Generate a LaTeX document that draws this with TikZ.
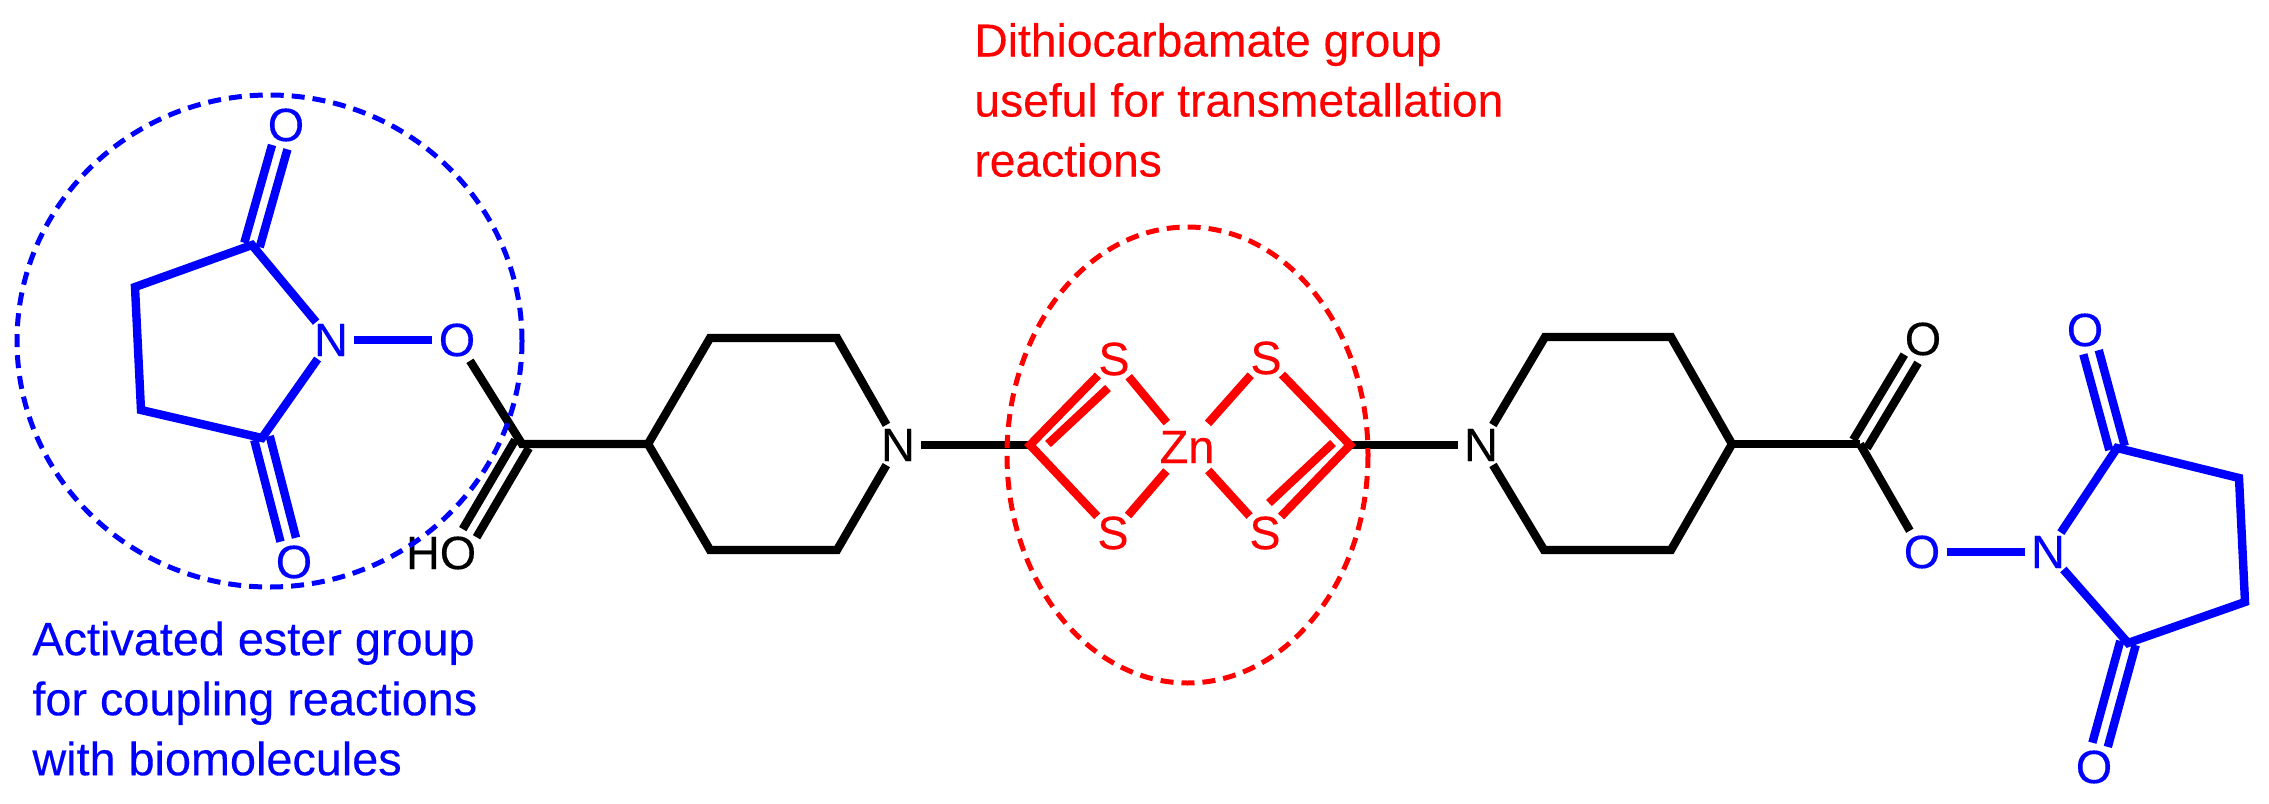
\documentclass[tikz,border=0pt]{standalone}
\usepackage{fontspec}
\setmainfont{Liberation Sans}[FakeBold=0.25]
\usetikzlibrary{calc}
\newcommand{\dblBond}[3]{%
  \draw[bond,#1,shorten >=11.5pt] ($(#2)!4pt!90:(#3)$) -- ($(#3)!4pt!-90:(#2)$);
  \draw[bond,#1,shorten >=11.5pt] ($(#2)!4pt!-90:(#3)$) -- ($(#3)!4pt!90:(#2)$);
}
\tikzset{
  atom/.style={circle,inner sep=0pt,outer sep=0pt,minimum size=23pt,font=\fontsize{23.4}{25}\selectfont},
  bond/.style={line width=4.2pt,line join=miter},
  ring/.style={line width=2.5pt,dash pattern=on 6.5pt off 4pt},
  note/.style={align=left,anchor=west,inner sep=0pt,font=\fontsize{23.4}{30}\selectfont}
}
\begin{document}
\begin{tikzpicture}[x=0.5pt,y=-0.5pt]
  \useasboundingbox (0,0) rectangle (2269,803);
  % left ester
  \node[atom,blue] (O-1-1) at (286,125) {O};
  \node[atom,blue] (O-1-2) at (294,562) {O};
  \node[atom,blue] (N-1-1) at (331,340) {N};
  \node[atom,blue] (O-1-3) at (457,340) {O};
  \coordinate (C-1-1) at (252,245);
  \coordinate (C-1-2) at (135,287);
  \coordinate (C-1-3) at (141,410);
  \coordinate (C-1-4) at (262,438);
  \draw[bond,blue] (N-1-1) -- (C-1-1) -- (C-1-2) -- (C-1-3) -- (C-1-4) -- (N-1-1);
  \draw[bond,blue] (N-1-1) -- (O-1-3);
  \dblBond{blue}{C-1-1}{O-1-1}
  \dblBond{blue}{C-1-4}{O-1-2}
  % left piperidine
  \node[atom] (O-2-1) at (458,553) {\llap{H}O};
  \node[atom] (N-2-1) at (898,445) {N};
  \coordinate (C-2-1) at (522,444);
  \coordinate (C-2-2) at (648,444);
  \coordinate (C-2-3) at (710,338);
  \coordinate (C-2-4) at (837,338);
  \coordinate (C-2-5) at (837,550);
  \coordinate (C-2-6) at (710,550);
  \draw[bond] (O-1-3) -- (C-2-1) -- (C-2-2);
  \dblBond{}{C-2-1}{O-2-1}
  \draw[bond] (N-2-1) -- (C-2-4) -- (C-2-3) -- (C-2-2) -- (C-2-6) -- (C-2-5) -- (N-2-1);
  % right piperidine
  \node[atom] (N-3-1) at (1481,445) {N};
  \node[atom] (O-3-1) at (1923,339) {O};
  \coordinate (C-3-1) at (1545,337);
  \coordinate (C-3-2) at (1671,337);
  \coordinate (C-3-3) at (1732,444);
  \coordinate (C-3-4) at (1671,550);
  \coordinate (C-3-5) at (1544,550);
  \coordinate (C-3-6) at (1860,444);
  \draw[bond] (N-3-1) -- (C-3-1) -- (C-3-2) -- (C-3-3) -- (C-3-4) -- (C-3-5) -- (N-3-1);
  \draw[bond] (C-3-3) -- (C-3-6);
  \dblBond{}{C-3-6}{O-3-1}
  % right ester
  \node[atom,blue] (O-4-1) at (1922,552) {O};
  \node[atom,blue] (N-4-1) at (2048,552) {N};
  \node[atom,blue] (O-4-2) at (2085,330) {O};
  \node[atom,blue] (O-4-3) at (2094,767) {O};
  \coordinate (C-4-1) at (2117,448);
  \coordinate (C-4-2) at (2239,478);
  \coordinate (C-4-3) at (2245,602);
  \coordinate (C-4-4) at (2128,643);
  \draw[bond] (C-3-6) -- (O-4-1);
  \draw[bond,blue] (O-4-1) -- (N-4-1);
  \draw[bond,blue] (N-4-1) -- (C-4-1) -- (C-4-2) -- (C-4-3) -- (C-4-4) -- (N-4-1);
  \dblBond{blue}{C-4-1}{O-4-2}
  \dblBond{blue}{C-4-4}{O-4-3}
  % zinc centre
  \node[atom,red] (Zn) at (1187,447) {Zn};
  \node[atom,red] (S-1-1) at (1114,359) {S};
  \node[atom,red] (S-1-2) at (1113,533) {S};
  \node[atom,red] (S-2-1) at (1266,358) {S};
  \node[atom,red] (S-2-2) at (1265,533) {S};
  \coordinate (C-5-1) at (1030,445);
  \coordinate (C-5-2) at (1350,445);
  \coordinate (C-5-3) at (1048,444);
  \coordinate (C-5-4) at (1108,388);
  \coordinate (C-5-5) at (1333,443);
  \coordinate (C-5-6) at (1269,503);
  \draw[bond] (N-2-1) -- (C-5-1);
  \draw[bond] (C-5-2) -- (N-3-1);
  \draw[bond,red] (S-1-1) -- (C-5-1) -- (S-1-2);
  \draw[bond,red] (S-2-1) -- (C-5-2) -- (S-2-2);
  \draw[bond,red] (C-5-3) -- (C-5-4);
  \draw[bond,red] (C-5-5) -- (C-5-6);
  \foreach \s in {S-1-1,S-1-2,S-2-1,S-2-2}
    \draw[bond,red] (Zn) -- (\s);
  % groups
  \draw[ring,blue] (269.5,341) ellipse [x radius=252.5,y radius=246];
  \draw[ring,red] (1187.5,455) ellipse [x radius=180.5,y radius=228];
  \node[note,blue] (ester) at (32,698.5) {Activated ester group\\for coupling reactions\\with biomolecules};
  \node[note,red,font=\fontsize{23.1}{30}\selectfont] (dithio) at (974,100) {Dithiocarbamate group\\useful for transmetallation\\reactions};
\end{tikzpicture}
\end{document}
